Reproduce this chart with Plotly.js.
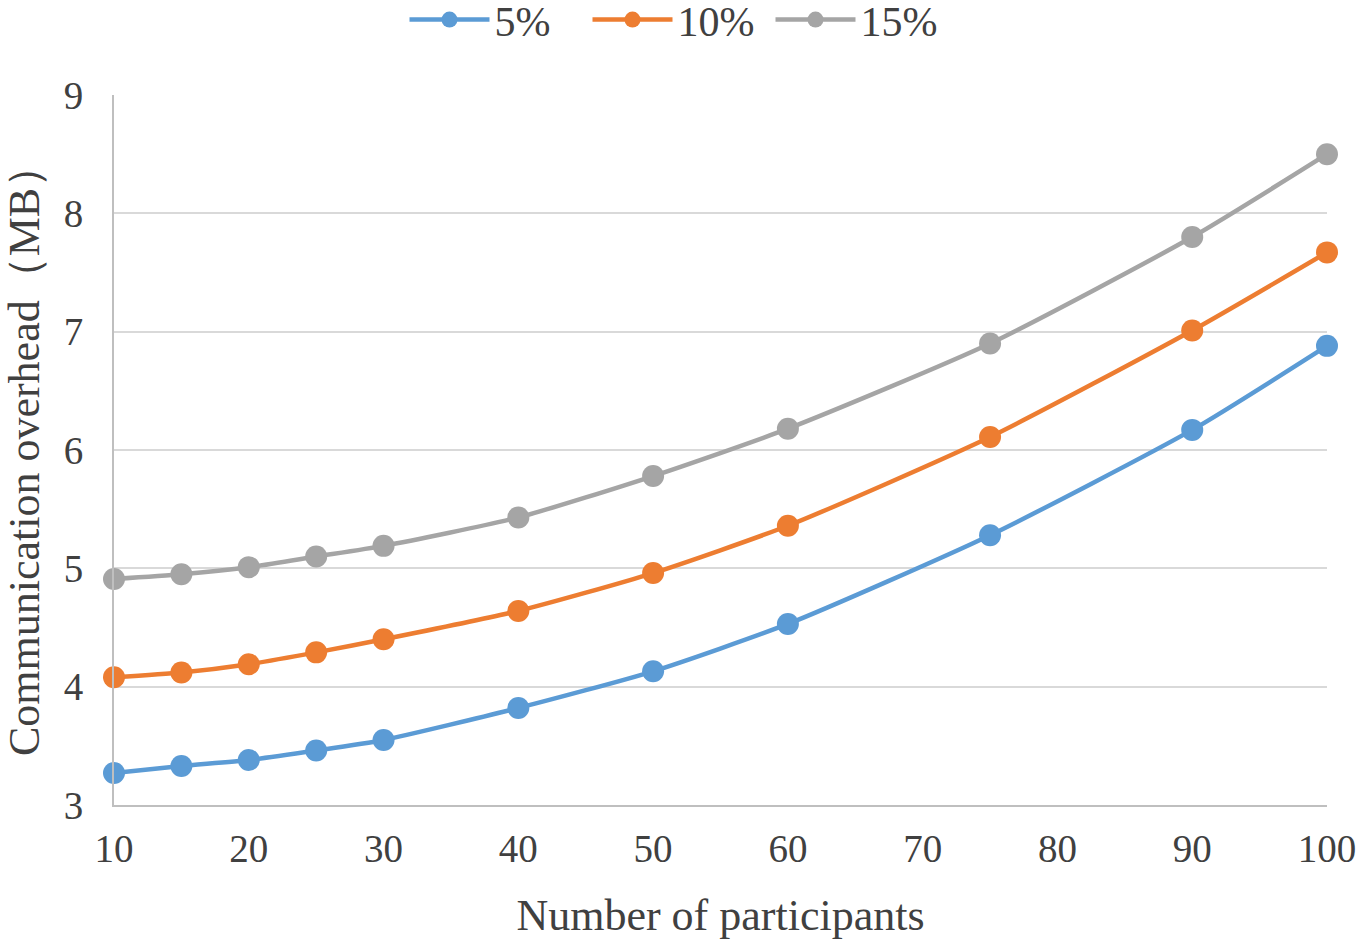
<!DOCTYPE html>
<html>
<head>
<meta charset="utf-8">
<script src="https://cdn.plot.ly/plotly-3.0.1.min.js"></script>
<style>html,body{margin:0;padding:0;background:#fff;}</style>
</head>
<body>
<div id="chart" style="width:1358px;height:940px;"></div>
<script>
const participants = [10, 15, 20, 25, 30, 40, 50, 60, 75, 90, 100];
const series5 = [3.27, 3.33, 3.38, 3.46, 3.55, 3.82, 4.13, 4.53, 5.28, 6.17, 6.88];
const series10 = [4.08, 4.12, 4.19, 4.29, 4.40, 4.64, 4.96, 5.36, 6.11, 7.01, 7.67];
const series15 = [4.91, 4.95, 5.01, 5.10, 5.19, 5.43, 5.78, 6.18, 6.90, 7.80, 8.50];
const seriesNames = ['5%', '10%', '15%'];
const seriesColors = ['#5b9bd5', '#ed7d31', '#a5a5a5'];
const allSeries = [series5, series10, series15];

const traces = allSeries.map((ys, i) => ({
  x: participants,
  y: ys,
  name: seriesNames[i],
  type: 'scatter',
  mode: 'lines+markers',
  cliponaxis: false,
  line: {color: seriesColors[i], width: 4.5, shape: 'spline', smoothing: 0.6},
  marker: {color: seriesColors[i], size: 22}
}));

const font = {family: '"Liberation Serif", "Times New Roman", serif', color: '#404040'};

const layout = {
  width: 1358,
  height: 940,
  margin: {l: 114, r: 31, t: 95, b: 135, autoexpand: false},
  paper_bgcolor: '#ffffff',
  plot_bgcolor: '#ffffff',
  font: Object.assign({size: 38}, font),
  showlegend: true,
  legend: {
    orientation: 'h',
    x: 0.5, xanchor: 'center', xref: 'container',
    y: 0.979, yanchor: 'middle', yref: 'container',
    font: Object.assign({size: 42}, font),
    itemwidth: 80,
    entrywidth: 88,
    entrywidthmode: 'pixels',
    traceorder: 'normal'
  },
  xaxis: {
    range: [10, 100],
    tickvals: [10, 20, 30, 40, 50, 60, 70, 80, 90, 100],
    showgrid: false,
    zeroline: false,
    showline: true,
    linecolor: '#bfbfbf',
    linewidth: 2,
    ticks: '',
    ticklabelstandoff: 8,
    tickfont: Object.assign({size: 39}, font),
    title: {text: 'Number of participants', font: Object.assign({size: 44}, font), standoff: 30}
  },
  yaxis: {
    range: [3, 9],
    dtick: 1,
    showgrid: true,
    gridcolor: '#d9d9d9',
    gridwidth: 2,
    zeroline: false,
    showline: true,
    linecolor: '#bfbfbf',
    linewidth: 2,
    ticks: '',
    ticklabelstandoff: 21,
    tickfont: Object.assign({size: 39}, font),
    title: {text: 'Communication overhead（MB）', font: Object.assign({size: 44}, font), standoff: 12}
  }
};

Plotly.newPlot('chart', traces, layout, {displayModeBar: false, staticPlot: true});
</script>
</body>
</html>
